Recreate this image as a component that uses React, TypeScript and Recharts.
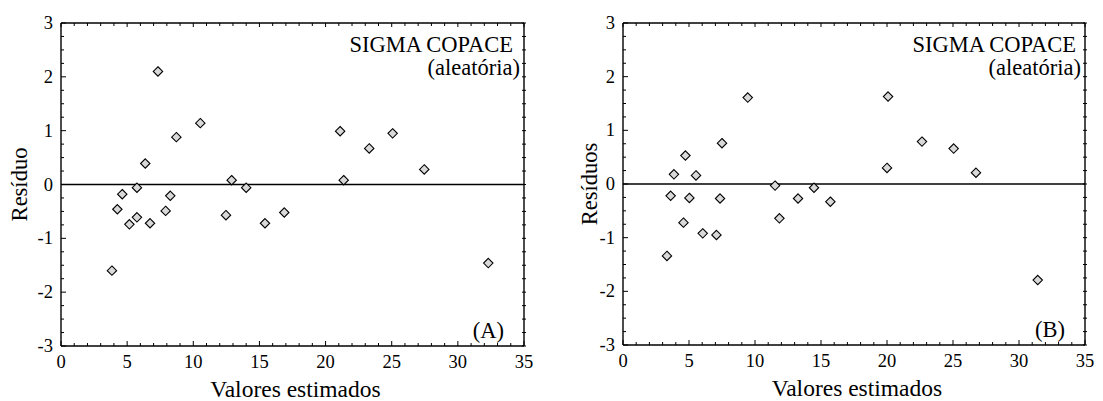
import React from 'react';
import { ScatterChart, Scatter, XAxis, YAxis, ReferenceLine } from 'recharts';

// ---- Data ----
const estimatedA = [3.85, 4.26, 4.63, 5.17, 5.74, 5.74, 6.37, 6.73, 7.33, 7.91, 8.26, 8.72, 10.53, 12.47, 12.9, 14.0, 15.42, 16.88, 21.1, 21.37, 23.3, 25.07, 27.46, 32.3];
const residualA = [-1.6, -0.46, -0.18, -0.74, -0.06, -0.61, 0.39, -0.72, 2.1, -0.49, -0.21, 0.88, 1.14, -0.57, 0.08, -0.06, -0.72, -0.52, 0.99, 0.08, 0.67, 0.95, 0.28, -1.46];

const estimatedB = [3.33, 3.61, 3.86, 4.58, 4.73, 5.03, 5.53, 6.04, 7.08, 7.35, 7.5, 9.45, 11.52, 11.85, 13.26, 14.47, 15.71, 20.0, 20.08, 22.65, 25.05, 26.74, 31.42];
const residualB = [-1.34, -0.22, 0.18, -0.72, 0.53, -0.26, 0.16, -0.92, -0.95, -0.27, 0.76, 1.61, -0.03, -0.64, -0.27, -0.07, -0.33, 0.3, 1.63, 0.79, 0.66, 0.21, -1.79];

const xMajorTicks = [0, 5, 10, 15, 20, 25, 30, 35];
const yMajorTicks = [-3, -2, -1, 0, 1, 2, 3];
const xMinorStep = 1;
const yMinorStep = 0.25;

const xAxisTitle = 'Valores estimados';
const yAxisTitleA = 'Resíduo';
const yAxisTitleB = 'Resíduos';
const noteLine1 = 'SIGMA COPACE';
const noteLine2 = '(aleatória)';
const tagA = '(A)';
const tagB = '(B)';

const FONT = "'Liberation Serif', 'Times New Roman', Times, serif";
const textStyle: React.CSSProperties = { fontFamily: FONT };

const buildTicks = (min: number, max: number, step: number) => {
  const out: number[] = [];
  const n = Math.round((max - min) / step);
  for (let i = 0; i <= n; i++) out.push(+(min + i * step).toFixed(4));
  return out;
};
const xAllTicks = buildTicks(xMajorTicks[0], xMajorTicks[xMajorTicks.length - 1], xMinorStep);
const yAllTicks = buildTicks(yMajorTicks[0], yMajorTicks[yMajorTicks.length - 1], yMinorStep);
const isMajor = (v: number, majors: number[]) => majors.some((m) => Math.abs(m - v) < 1e-6);

const BottomTick = (p: any) => {
  const { x, y, payload } = p;
  const major = isMajor(payload.value, xMajorTicks);
  return (
    <g>
      <line x1={x} x2={x} y1={y} y2={y - (major ? 5 : 3)} stroke="#000" strokeWidth={1} />
      {major && (
        <text x={x} y={y + 22} textAnchor="middle" fontSize={18.5} style={textStyle} fill="#000">
          {String(payload.value)}
        </text>
      )}
    </g>
  );
};

const TopTick = (p: any) => {
  const { x, y, payload } = p;
  const major = isMajor(payload.value, xMajorTicks);
  return <line x1={x} x2={x} y1={y} y2={y + (major ? 4 : 3)} stroke="#000" strokeWidth={1} />;
};

const LeftTick = (p: any) => {
  const { x, y, payload } = p;
  const major = isMajor(payload.value, yMajorTicks);
  return (
    <g>
      <line x1={x} x2={x + (major ? 5 : 3)} y1={y} y2={y} stroke="#000" strokeWidth={1} />
      {major && (
        <text x={x - 8} y={y + 6} textAnchor="end" fontSize={18.5} style={textStyle} fill="#000">
          {String(payload.value)}
        </text>
      )}
    </g>
  );
};

const RightTick = (p: any) => {
  const { x, y } = p;
  return <line x1={x - 2} x2={x + 2} y1={y} y2={y} stroke="#000" strokeWidth={1} />;
};

const Diamond = (p: any) => {
  const { cx, cy } = p;
  if (cx == null || cy == null) return null;
  const r = 4.7;
  return (
    <path
      d={`M${cx},${cy - r}L${cx + r},${cy}L${cx},${cy + r}L${cx - r},${cy}Z`}
      fill="#d9d9d9"
      stroke="#000"
      strokeWidth={1.1}
    />
  );
};

const Nothing = () => null;

type PanelProps = {
  left: number;
  width: number;
  yAxisWidth: number;
  rightMargin: number;
  xAxisHeight: number;
  xs: number[];
  ys: number[];
  yTitle: string;
  yTitleBaseline: number;
  tag: string;
  noteRight: number;
};

const Panel = ({ left, width, yAxisWidth, rightMargin, xAxisHeight, xs, ys, yTitle, yTitleBaseline, tag, noteRight }: PanelProps) => {
  const data = xs.map((x, i) => ({ x, y: ys[i] }));
  const axisLine = { stroke: '#000', strokeWidth: 1.4 };

  const bottomLabel = (lp: any) => {
    const vb = lp.viewBox || {};
    return (
      <g>
        <text x={vb.x + vb.width / 2 + 3} y={vb.y + 51} textAnchor="middle" fontSize={23.5} style={textStyle} fill="#000">
          {xAxisTitle}
        </text>
        <text x={vb.x + vb.width - 20} y={vb.y - 8} textAnchor="end" fontSize={22.5} style={textStyle} fill="#000">
          {tag}
        </text>
      </g>
    );
  };

  const topLabel = (lp: any) => {
    const vb = lp.viewBox || {};
    const right = vb.x + vb.width;
    const top = vb.y + vb.height;
    return (
      <g>
        <text x={right - noteRight} y={top + 29} textAnchor="end" fontSize={22.5} style={textStyle} fill="#000">
          {noteLine1}
        </text>
        <text x={right - 4} y={top + 52} textAnchor="end" fontSize={22.5} style={textStyle} fill="#000">
          {noteLine2}
        </text>
      </g>
    );
  };

  const leftLabel = (lp: any) => {
    const vb = lp.viewBox || {};
    const cx = vb.x + yTitleBaseline;
    const cy = vb.y + vb.height / 2;
    return (
      <text x={cx} y={cy} transform={`rotate(-90, ${cx}, ${cy})`} textAnchor="middle" fontSize={22.5} style={textStyle} fill="#000">
        {yTitle}
      </text>
    );
  };

  return (
    <div style={{ position: 'absolute', left, top: 0 }}>
      <ScatterChart width={width} height={401} margin={{ top: 22, right: rightMargin - 1, bottom: 0, left: 0 }}>
        <XAxis
          xAxisId="b"
          dataKey="x"
          type="number"
          domain={[0, 35]}
          ticks={xAllTicks}
          interval={0}
          tickSize={0}
          tickMargin={0}
          tick={BottomTick}
          axisLine={axisLine}
          tickLine={false}
          height={xAxisHeight}
          allowDataOverflow
          label={bottomLabel}
        />
        <XAxis
          xAxisId="t"
          dataKey="x"
          orientation="top"
          type="number"
          domain={[0, 35]}
          ticks={xAllTicks}
          interval={0}
          tickSize={0}
          tickMargin={0}
          tick={TopTick}
          axisLine={axisLine}
          tickLine={false}
          height={1}
          allowDataOverflow
          label={topLabel}
        />
        <YAxis
          yAxisId="l"
          dataKey="y"
          type="number"
          domain={[-3, 3]}
          ticks={yAllTicks}
          interval={0}
          tickSize={0}
          tickMargin={0}
          tick={LeftTick}
          axisLine={axisLine}
          tickLine={false}
          width={yAxisWidth}
          allowDataOverflow
          label={leftLabel}
        />
        <YAxis
          yAxisId="r"
          dataKey="y"
          orientation="right"
          type="number"
          domain={[-3, 3]}
          ticks={yAllTicks}
          interval={0}
          tickSize={0}
          tickMargin={0}
          tick={RightTick}
          axisLine={axisLine}
          tickLine={false}
          width={1}
          allowDataOverflow
        />
        <ReferenceLine xAxisId="b" yAxisId="l" y={0} stroke="#000" strokeWidth={1.3} />
        <Scatter xAxisId="t" yAxisId="r" data={data} shape={Nothing} isAnimationActive={false} />
        <Scatter xAxisId="b" yAxisId="l" data={data} shape={Diamond} isAnimationActive={false} />
      </ScatterChart>
    </div>
  );
};

export default function App() {
  return (
    <div style={{ position: 'absolute', left: 0, top: 0, width: 1103, height: 401, background: '#fff' }}>
      <Panel
        left={0}
        width={560}
        yAxisWidth={61}
        rightMargin={36}
        xAxisHeight={55}
        xs={estimatedA}
        ys={residualA}
        yTitle={yAxisTitleA}
        yTitleBaseline={27}
        tag={tagA}
        noteRight={11}
      />
      <Panel
        left={560}
        width={543}
        yAxisWidth={63}
        rightMargin={18}
        xAxisHeight={56}
        xs={estimatedB}
        ys={residualB}
        yTitle={yAxisTitleB}
        yTitleBaseline={37}
        tag={tagB}
        noteRight={9}
      />
    </div>
  );
}
